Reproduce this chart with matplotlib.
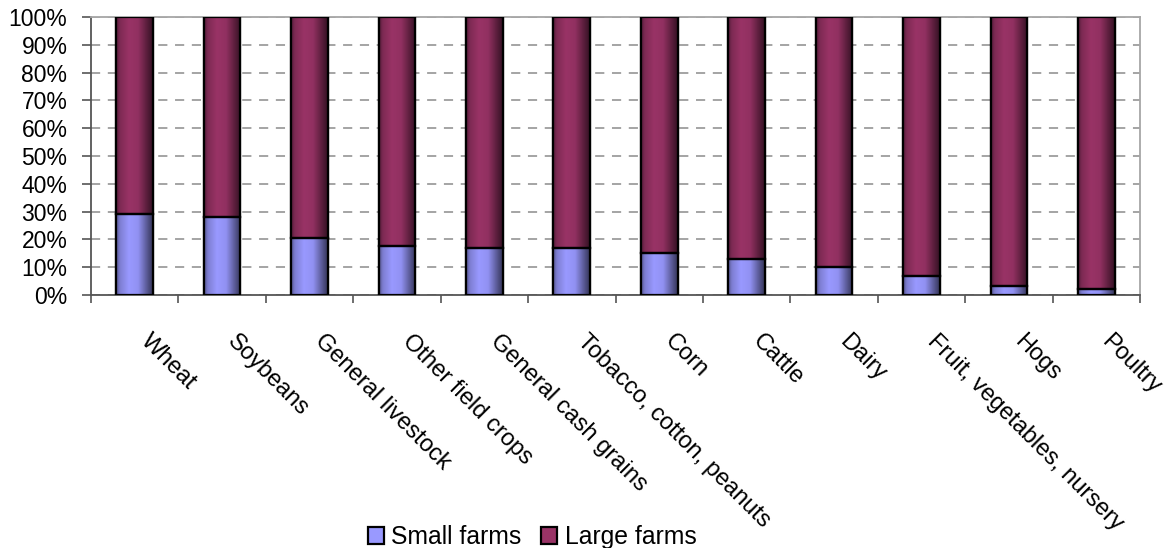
import numpy as np
import matplotlib
matplotlib.use("Agg")
import matplotlib.pyplot as plt
from matplotlib.colors import to_rgb
from matplotlib.transforms import offset_copy

plt.rcParams['font.family'] = ['Liberation Sans', 'DejaVu Sans']

categories = ["Wheat", "Soybeans", "General livestock", "Other field crops",
              "General cash grains", "Tobacco, cotton, peanuts", "Corn", "Cattle",
              "Dairy", "Fruit, vegetables, nursery", "Hogs", "Poultry"]
small_farms = [29.3, 27.9, 20.6, 17.8, 17.0, 17.0, 15.0, 12.8, 9.9, 6.9, 3.4, 2.0]
large_farms = [100 - v for v in small_farms]
y_ticks = [0, 10, 20, 30, 40, 50, 60, 70, 80, 90, 100]

SMALL_COLOR = "#9999FF"
LARGE_COLOR = "#993366"

fig = plt.figure(figsize=(11.68, 5.48), dpi=100)
ax = fig.add_axes([91 / 1168, 1 - 295 / 548, (1140 - 91) / 1168, (295 - 17) / 548])

x = np.arange(len(categories))
bw = 0.42
b1 = ax.bar(x, small_farms, width=bw, color=SMALL_COLOR, edgecolor="black",
            linewidth=1.6, label="Small farms", zorder=3)
b2 = ax.bar(x, large_farms, width=bw, bottom=small_farms, color=LARGE_COLOR,
            edgecolor="black", linewidth=1.6, label="Large farms", zorder=3)


def shade(base, n=64):
    """Horizontal cylinder-like shading across a bar."""
    t = np.linspace(0, 1, n)
    f = np.interp(t, [0, 0.1, 0.35, 0.6, 0.82, 1.0],
                  [0.55, 0.82, 1.0, 0.95, 0.62, 0.35])
    rgb = np.array(to_rgb(base))
    img = rgb[None, :] * f[:, None]
    return img[None, :, :]


for bars, base in ((b1, SMALL_COLOR), (b2, LARGE_COLOR)):
    img = shade(base)
    for p in bars:
        x0, y0 = p.get_x(), p.get_y()
        w, h = p.get_width(), p.get_height()
        im = ax.imshow(img, extent=(x0, x0 + w, y0, y0 + h), aspect="auto",
                       zorder=3.5, interpolation="bilinear")
        im.set_clip_path(p)
        # outline on top of the shading
        ax.add_patch(plt.Rectangle((x0, y0), w, h, fill=False, edgecolor="black",
                                   linewidth=1.6, zorder=4))

ax.set_xlim(-0.5, len(categories) - 0.5)
ax.set_ylim(0, 100)

ax.set_yticks(y_ticks)
ax.set_yticklabels([f"{v}%" for v in y_ticks], fontsize=16.5)
ax.tick_params(axis="y", direction="out", length=6.5, width=1.2, color="#555555", pad=10.5)

# ticks sit on the category boundaries
ax.set_xticks(np.arange(len(categories) + 1) - 0.5)
ax.set_xticklabels([])
ax.tick_params(axis="x", direction="out", length=6, width=1.2, color="#555555")

for i, lab in enumerate(categories):
    tr = offset_copy(ax.get_xaxis_transform(), fig=fig, x=9, y=-43, units="dots")
    ax.text(i, 0, lab, transform=tr, rotation=-45, rotation_mode="anchor",
            ha="left", va="center", fontsize=17)

ax.yaxis.grid(True, linestyle=(0, (6, 5)), color="#8c8c8c", linewidth=1.1, zorder=0)
ax.set_axisbelow(True)

for side in ("left", "bottom"):
    ax.spines[side].set_color("#555555")
    ax.spines[side].set_linewidth(1.3)
for side in ("top", "right"):
    ax.spines[side].set_color("#a6a6a6")
    ax.spines[side].set_linewidth(1.3)

fig.legend(handles=[b1, b2], loc="center", bbox_to_anchor=(532 / 1168, 1 - 537 / 548),
           ncol=2, frameon=False, fontsize=17.8, handlelength=0.65, handleheight=0.65,
           handletextpad=0.3, columnspacing=0.8, borderaxespad=0)

fig.savefig("out.png", dpi=100)
